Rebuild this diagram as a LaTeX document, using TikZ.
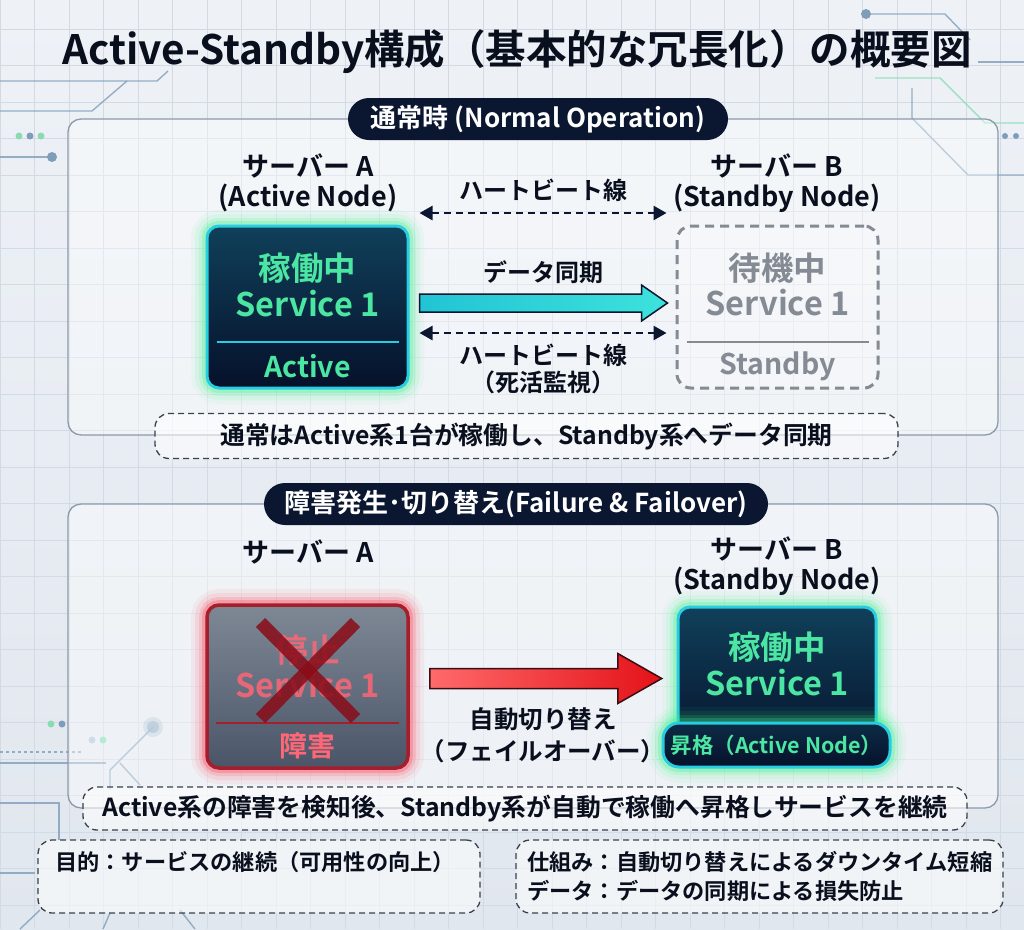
\documentclass[tikz,border=0pt]{standalone}
\usepackage{fontspec}
\setmainfont{Noto Sans CJK JP Bold}
\usetikzlibrary{calc,arrows.meta}

\definecolor{bgTop}{HTML}{EEF2F7}
\definecolor{bgBot}{HTML}{E1E7EE}
\definecolor{gridc}{HTML}{D2DAE3}
\definecolor{wire}{HTML}{7D9DBA}
\definecolor{wireG}{HTML}{8ADBB4}
\definecolor{navy}{HTML}{0B1630}
\definecolor{inkc}{HTML}{0A0F1E}
\definecolor{panelc}{HTML}{8C9AAA}
\definecolor{cyanb}{HTML}{27CDE0}
\definecolor{grnTxt}{HTML}{4BE6A2}
\definecolor{glowG}{HTML}{39F28A}
\definecolor{actTop}{HTML}{10405A}
\definecolor{actBot}{HTML}{06112B}
\definecolor{pillTop}{HTML}{0D2C46}
\definecolor{stbc}{HTML}{858B94}
\definecolor{failTop}{HTML}{7E8895}
\definecolor{failBot}{HTML}{4A5568}
\definecolor{failEdge}{HTML}{A51E2B}
\definecolor{glowR}{HTML}{FF3045}
\definecolor{redTxt}{HTML}{FF6676}
\definecolor{xred}{HTML}{8A0C18}
\definecolor{arrL}{HTML}{FF6A6A}
\definecolor{arrR}{HTML}{E31218}
\definecolor{arrEdge}{HTML}{3A0C14}
\definecolor{syncL}{HTML}{22C4D4}
\definecolor{syncR}{HTML}{3DE2DC}
\definecolor{notec}{HTML}{3A414C}

\newcommand{\fsz}[1]{\fontsize{#1}{#1}\selectfont}

\tikzset{
  glow/.style={preaction={draw=#1,line width=32,draw opacity=0.06},
               preaction={draw=#1,line width=24,draw opacity=0.09},
               preaction={draw=#1,line width=16,draw opacity=0.14},
               preaction={draw=#1,line width=10,draw opacity=0.25}},
  panel/.style={draw=panelc, line width=1.3, rounded corners=13, fill=white, fill opacity=0.4, inner sep=0},
  pill/.style={fill=navy, text=white, rounded corners=21, minimum height=42, inner sep=0, font=\fsz{26}},
  srvlbl/.style={text=inkc, align=center, inner sep=0, font=\fontsize{27}{30}\selectfont},
  actbox/.style={draw=cyanb, line width=3, rounded corners=12, top color=actTop, bottom color=actBot, inner sep=0},
  actpill/.style={draw=cyanb, line width=3, rounded corners=16, top color=pillTop, bottom color=actBot, inner sep=0, text=grnTxt, font=\fsz{21.5}},
  stbbox/.style={draw=stbc, line width=3, dash pattern=on 9 off 6, rounded corners=14, fill=white, fill opacity=0.25, inner sep=0},
  failbox/.style={draw=failEdge, line width=3.5, rounded corners=12, top color=failTop, bottom color=failBot, inner sep=0},
  boxtxt/.style={inner sep=0, font=\fsz{32.5}},
  arrlbl/.style={text=inkc, inner sep=0, align=center, font=\fontsize{24}{27}\selectfont},
  hbline/.style={draw=navy, line width=2.5, dash pattern=on 7 off 5, {Triangle[length=13pt,width=14pt]}-{Triangle[length=13pt,width=14pt]}},
  note/.style={draw=notec, line width=1.3, dash pattern=on 6 off 4, rounded corners=14, fill=white, fill opacity=0.55, text opacity=1, text=inkc, inner sep=0, font=\fsz{24.8}},
  notetxt/.style={text=inkc, inner sep=0, font=\fsz{22.2}},
  wireln/.style={draw=wire, line width=1.4, opacity=0.8},
}

\begin{document}
\begin{tikzpicture}[x=1pt,y=-1pt]
%%%%% BACKGROUND %%%%%
\useasboundingbox (0,0) rectangle (1024,929);
\shade[top color=bgTop, bottom color=bgBot] (0,0) rectangle (1024,929);
\foreach \gx in {0,34.5,...,1024} \draw[gridc, line width=0.8] (\gx,0) -- (\gx,929);
\foreach \gy in {29,65.5,...,929} \draw[gridc, line width=0.8] (0,\gy) -- (1024,\gy);

% circuit lines, top left
\draw[wireln] (0,81) -- (157,81) -- (168,71);
\draw[wireln] (0,111) -- (92,111) -- (127,81);
\draw[wireln] (0,157) -- (52,157);
\fill[wire] (52,157) circle (5);
\fill[wireG] (19,136) circle (3.5);
\fill[wire] (30,136) circle (3.5);
\fill[wireG] (41,136) circle (3.5);
% circuit lines, top right
\draw[wireln] (866,14) -- (945,14) -- (970,40);
\fill[wire] (866,14) circle (5);
\draw[wireln] (978,62) -- (1024,62);
\draw[wireln, draw=wireG] (875,78) -- (940,78) -- (985,123) -- (1024,123);
\draw[wireln] (912,88) -- (912,118) -- (968,175) -- (1024,175);
\fill[wire] (1005,136) circle (3);
\fill[wire] (1016,136) circle (3);
% circuit lines, bottom left
\fill[wireG] (51,724) circle (3.5);
\fill[wire] (62,724) circle (3.5);
\fill[wire!60] (92,740) circle (3.5);
\fill[wireG] (103,740) circle (3.5);
\fill[wire, opacity=0.3] (153,727) circle (10);
\fill[wire!80] (153,727) circle (6);
\draw[wireln] (153,727) -- (118,762) -- (110,770) -- (110,790);
\draw[wireln] (120,763) -- (140,785);
\draw[wireln, dashed] (0,752) -- (82,752);
\draw[wireln] (0,763) -- (106,763);
\draw[wireln] (0,803) -- (59,803) -- (59,840);
\draw[wireln] (0,873) -- (35,873);
\draw[wireln] (40,910) -- (20,929);
\draw[wireln] (110,913) -- (103,929);
\draw[wireln] (180,910) -- (195,929);

%%%%% TITLE %%%%%
\node[text=inkc, inner sep=0, font=\fsz{40.5}] (title) at (517,52) {Active-Standby構成（基本的な冗長化）の概要図};

%%%%% NORMAL OPERATION %%%%%
\node[panel, minimum width=930, minimum height=316] (pnlNorm) at (533,277) {};
\node[pill, minimum width=380] (tagNorm) at (538,119) {通常時 (Normal Operation)};

\node[srvlbl] (lblA1) at (308,183) {サーバー A\\(Active Node)};
\node[srvlbl] (lblB1) at (777,183) {サーバー B\\(Standby Node)};

\node[actbox, glow=glowG, minimum width=201, minimum height=162] (actA) at (307.5,307) {};
\node[boxtxt, text=grnTxt] (actAt1) at ($(actA.center)+(0,-39)$) {稼働中};
\node[boxtxt, text=grnTxt] (actAt2) at ($(actA.center)+(0,-3)$) {Service 1};
\draw[cyanb, line width=2.5] ($(actA.west)+(11,35)$) -- ($(actA.east)+(-11,35)$);
\node[boxtxt, text=grnTxt, font=\fsz{28.5}] (actAt3) at ($(actA.center)+(0,59)$) {Active};

\node[stbbox, minimum width=201, minimum height=162] (stbB) at (777.5,307) {};
\node[boxtxt, text=stbc] (stbBt1) at ($(stbB.center)+(0,-39)$) {待機中};
\node[boxtxt, text=stbc] (stbBt2) at ($(stbB.center)+(0,-4)$) {Service 1};
\draw[stbc, line width=2.5] ($(stbB.west)+(11,35)$) -- ($(stbB.east)+(-11,35)$);
\node[boxtxt, text=stbc, font=\fsz{28.5}] (stbBt3) at ($(stbB.center)+(0,59)$) {Standby};

% heartbeat and sync
\coordinate (hbA1) at ($(actA.east)+(10,-94)$);
\coordinate (hbB1) at ($(stbB.west)+(-9,-94)$);
\coordinate (hbA2) at ($(actA.east)+(10,26)$);
\coordinate (hbB2) at ($(stbB.west)+(-9,26)$);
\draw[hbline] (hbA1) -- (hbB1);
\draw[hbline] (hbA2) -- (hbB2);
\node[arrlbl] (hbTopLbl) at (543,190) {ハートビート線};
\node[arrlbl] (syncLbl) at (543,272) {データ同期};
\node[arrlbl] (hbBotLbl) at (543,369) {ハートビート線\\（死活監視）};
\draw[draw=navy, line width=1.5, left color=syncL, right color=syncR]
  ($(actA.east)+(10,-13)$) -- ++(222,0) -- ++(0,-9) -- ++(26,18) -- ++(-26,18) -- ++(0,-9) -- ++(-222,0) -- cycle;

\node[note, minimum width=743, minimum height=45] (noteNorm) at (526.5,436) {通常はActive系1台が稼働し、Standby系へデータ同期};

%%%%% FAILURE & FAILOVER %%%%%
\node[panel, minimum width=930, minimum height=304] (pnlFail) at (533,656) {};
\node[pill, minimum width=504] (tagFail) at (516,504) {障害発生･切り替え(Failure \& Failover)};

\node[srvlbl] (lblA2) at (308,552) {サーバー A};
\node[srvlbl] (lblB2) at (777,566) {サーバー B\\(Standby Node)};

\node[failbox, glow=glowR, minimum width=201, minimum height=163] (failA) at (307.5,686.5) {};
\node[boxtxt, text=redTxt, text opacity=0.85] (failAt1) at ($(failA.center)+(0,-36)$) {停止};
\node[boxtxt, text=redTxt, text opacity=0.85] (failAt2) at ($(failA.center)+(0,-2)$) {Service 1};
\draw[failEdge, line width=2.5] ($(failA.west)+(11,36.5)$) -- ($(failA.east)+(-11,36.5)$);
\node[boxtxt, text=redTxt, font=\fsz{28}] (failAt3) at ($(failA.center)+(0,59.5)$) {障害};
\draw[xred, line width=13, opacity=0.85] ($(failA.center)+(-47,-64)$) -- ($(failA.center)+(48,32)$);
\draw[xred, line width=13, opacity=0.85] ($(failA.center)+(48,-64)$) -- ($(failA.center)+(-47,32)$);

\node[actbox, glow=glowG, minimum width=198, minimum height=150] (actB) at (777,682) {};
\node[boxtxt, text=grnTxt] (actBt1) at ($(actB.center)+(0,-35)$) {稼働中};
\node[boxtxt, text=grnTxt] (actBt2) at ($(actB.center)+(0,1)$) {Service 1};
\node[actpill, glow=glowG, minimum width=227, minimum height=44] (promB) at (776.5,745) {昇格（Active Node）};

% failover arrow
\draw[draw=arrEdge, line width=1.5, left color=arrL, right color=arrR]
  ($(failA.east)+(20,-18)$) -- ++(188,0) -- ++(0,-15) -- ++(44,25) -- ++(-44,25) -- ++(0,-15) -- ++(-188,0) -- cycle;
\node[arrlbl, font=\fontsize{24.5}{32}\selectfont] (foLbl) at (543,735) {自動切り替え\\（フェイルオーバー）};

\node[note, minimum width=884, minimum height=43] (noteFail) at (525,808.5) {Active系の障害を検知後、Standby系が自動で稼働へ昇格しサービスを継続};

%%%%% SUMMARY %%%%%
\node[note, minimum width=442, minimum height=73] (notePurp) at (259,876.5) {};
\node[notetxt, anchor=west] (purpTxt) at (55,862) {目的：サービスの継続（可用性の向上）};
\node[note, minimum width=487, minimum height=73] (noteMech) at (759.5,876.5) {};
\node[notetxt, anchor=west] (mechTxt) at (527,862) {仕組み：自動切り替えによるダウンタイム短縮};
\node[notetxt, anchor=west] (dataTxt) at (527,891) {データ：データの同期による損失防止};
\end{tikzpicture}
\end{document}
